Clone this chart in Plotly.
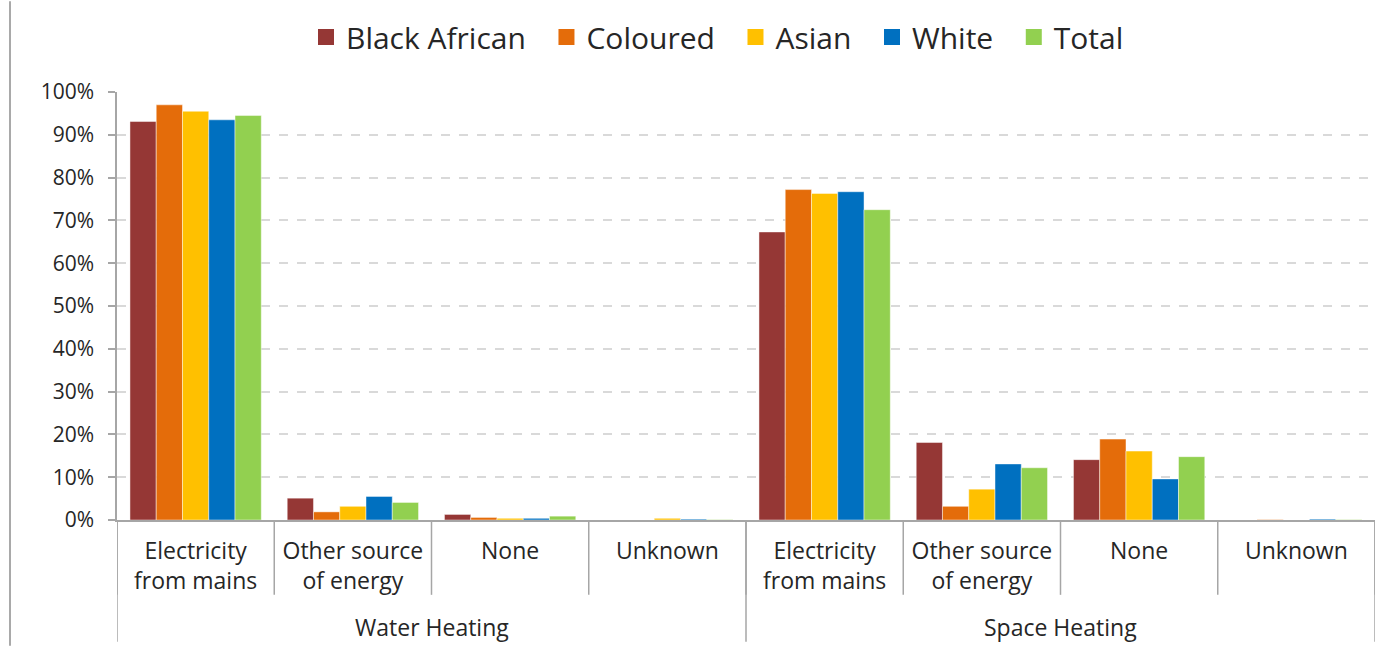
import plotly.graph_objects as go

# Categories
groups = ["Water Heating", "Space Heating"]
sources = ["Electricity<br>from mains", "Other source<br>of energy", "None", "Unknown"]

# Share of households (%) per population group, by heating type and energy source
series_names = ["Black African", "Coloured", "Asian", "White", "Total"]
black_african = [93.1, 5.1, 1.3, 0.0, 67.3, 18.1, 14.1, 0.0]
coloured = [97.0, 1.9, 0.6, 0.0, 77.2, 3.2, 18.9, 0.1]
asian = [95.5, 3.2, 0.4, 0.4, 76.3, 7.2, 16.1, 0.0]
white = [93.5, 5.5, 0.4, 0.2, 76.7, 13.1, 9.6, 0.2]
total = [94.5, 4.1, 0.9, 0.1, 72.5, 12.2, 14.8, 0.1]

y_ticks = [0, 10, 20, 30, 40, 50, 60, 70, 80, 90, 100]

colors = ["#953735", "#E46C0A", "#FFC000", "#0070C0", "#92D050"]
FONT = "Century Gothic, Open Sans, sans-serif"
TEXT = "#262626"
AXIS = "#A6A6A6"

W, H = 1397, 646
ML, MR, MT, MB = 117, 22, 91, 126
plot_h = H - MT - MB
plot_w = W - ML - MR

labels = sources * len(groups)
xs = list(range(len(labels)))

fig = go.Figure()
for name, vals, col in zip(series_names, [black_african, coloured, asian, white, total], colors):
    fig.add_trace(go.Bar(
        x=xs, y=vals, name=name, showlegend=False, legendgroup=name,
        marker=dict(color=col, line=dict(color="rgba(255,255,255,0.45)", width=1)),
    ))
# legend keys drawn as larger squares; trailing no-break spaces widen the gap between entries
for name, col in zip(series_names, colors):
    fig.add_trace(go.Scatter(
        x=[None], y=[None], mode="markers", name=name + "\u00a0\u00a0", legendgroup=name,
        marker=dict(symbol="square", size=16, color=col),
    ))


def py(px_below_axis):
    """Convert pixels below the x axis into paper y."""
    return -px_below_axis / plot_h


shapes = []
# short dividers between every source category
for b in range(len(labels) + 1):
    shapes.append(dict(type="line", xref="x", yref="paper",
                       x0=b - 0.5, x1=b - 0.5, y0=0, y1=py(75),
                       line=dict(color=AXIS, width=1.5)))
# long dividers around each heating group
n = len(sources)
for g in range(len(groups) + 1):
    shapes.append(dict(type="line", xref="x", yref="paper",
                       x0=g * n - 0.5, x1=g * n - 0.5, y0=0, y1=py(122),
                       line=dict(color=AXIS, width=1.5)))
# outer frame line on the left
shapes.append(dict(type="line", xref="paper", yref="paper",
                   x0=(10 - ML) / plot_w, x1=(10 - ML) / plot_w,
                   y0=-MB / plot_h, y1=1 + MT / plot_h,
                   line=dict(color="#8C8C8C", width=1.5)))

annotations = []
for g, gname in enumerate(groups):
    annotations.append(dict(
        x=g * n + (n - 1) / 2, xref="x", y=py(107), yref="paper",
        text=gname, showarrow=False, yanchor="middle", xanchor="center",
        font=dict(family=FONT, size=23, color=TEXT)))

fig.update_layout(
    width=W, height=H,
    margin=dict(l=ML, r=MR, t=MT, b=MB, pad=0),
    paper_bgcolor="white", plot_bgcolor="white",
    barmode="group", bargap=0.165, bargroupgap=0,
    font=dict(family=FONT, color=TEXT),
    showlegend=True,
    legend=dict(orientation="h", x=(306 - ML) / plot_w, xanchor="left",
                y=1 + (MT - 37) / plot_h, yanchor="middle",
                font=dict(family=FONT, size=30, color=TEXT),
                itemwidth=30, traceorder="normal"),
    xaxis=dict(
        range=[-0.5, len(labels) - 0.5],
        tickmode="array", tickvals=xs, ticktext=labels,
        ticks="", showgrid=False, zeroline=False,
        showline=True, linecolor=AXIS, linewidth=1.5,
        tickfont=dict(family=FONT, size=23, color=TEXT),
        ticklabelstandoff=10,
    ),
    yaxis=dict(
        range=[0, 100], tickmode="array", tickvals=y_ticks,
        ticktext=[f"{v}%" for v in y_ticks],
        ticks="outside", ticklen=7, tickcolor=AXIS, tickwidth=1.5,
        showline=True, linecolor=AXIS, linewidth=1.5,
        showgrid=True, gridcolor="#D9D9D9", gridwidth=1.5, griddash="dash",
        zeroline=False,
        tickfont=dict(family=FONT, size=21, color=TEXT),
        ticklabelstandoff=10,
    ),
    shapes=shapes,
    annotations=annotations,
)

fig.write_html("out.html")
